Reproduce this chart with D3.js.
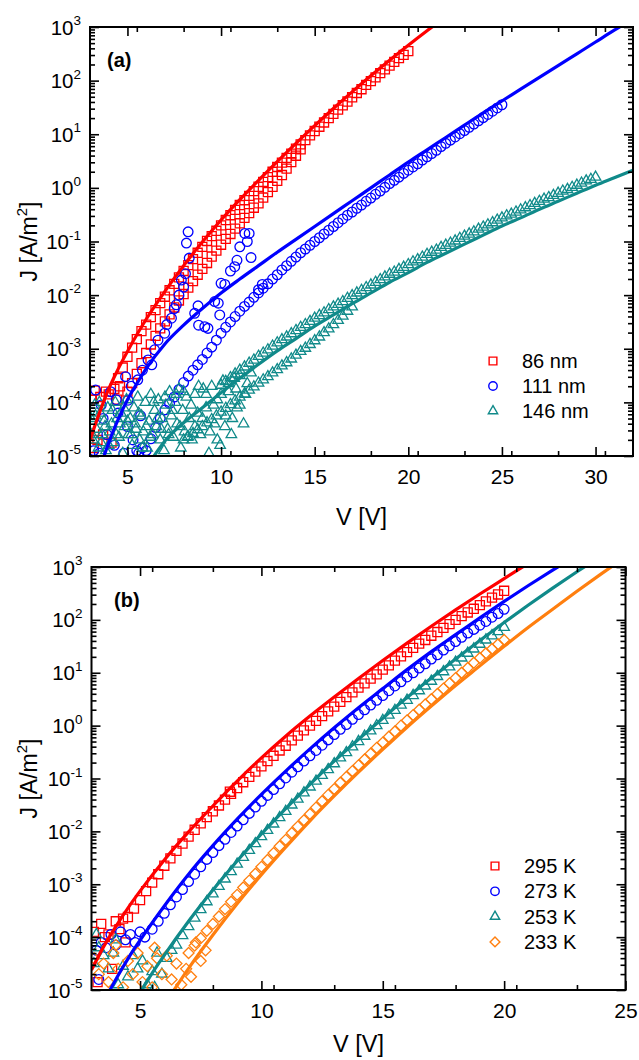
<!DOCTYPE html>
<html><head><meta charset="utf-8">
<script src="https://cdn.jsdelivr.net/npm/d3@7"></script>
<style>
body{margin:0;background:#fff}
text{font-family:Arial,"Liberation Sans",Helvetica,sans-serif;fill:#000}
</style>
</head><body>
<svg id="chart" width="639" height="1060"></svg>
<script>
// ---------------- DATA (V [V], log10 of J [A/m^2]) ----------------
const seriesA = ["86 nm", "111 nm", "146 nm"];
const seriesB = ["295 K", "273 K", "253 K", "233 K"];
const vTicksA = [5, 10, 15, 20, 25, 30];
const vTicksB = [5, 10, 15, 20, 25];
const jTickExp = [-5, -4, -3, -2, -1, 0, 1, 2, 3];

const red86Scatter = [[3.1,-3.95],[3.25,-3.78],[3.2,-4.85],[3.4,-4.7],[3.55,-3.9],[3.7,-4.6],[3.85,-3.8],[4.0,-3.85],[4.15,-4.75],[4.3,-3.75],[4.45,-3.95],[4.6,-3.7],[5.0,-3.8],[5.25,-3.64]];
const red86Up = [[4.5,-3.55],[4.75,-3.35],[5,-3.15],[5.25,-2.98],[5.5,-2.82],[5.75,-2.67],[6,-2.55],[6.25,-2.41],[6.5,-2.28],[6.75,-2.15],[7,-2.03],[7.25,-1.91],[7.5,-1.79],[7.75,-1.67],[8,-1.55],[8.25,-1.44],[8.5,-1.33],[8.75,-1.21],[9,-1.1],[9.25,-0.99],[9.5,-0.9],[9.75,-0.8],[10,-0.7],[10.25,-0.6],[10.5,-0.51],[10.75,-0.41],[11,-0.32],[11.25,-0.23],[11.5,-0.15],[11.75,-0.06],[12,0.02],[12.25,0.11],[12.5,0.2],[12.75,0.3],[13,0.39],[13.25,0.47],[13.5,0.56],[13.75,0.64],[14,0.73],[14.25,0.81],[14.5,0.89],[14.75,0.98],[15,1.06],[15.25,1.14],[15.5,1.22],[15.75,1.3],[16,1.38],[16.25,1.46],[16.5,1.54],[16.75,1.61],[17,1.69],[17.25,1.77],[17.5,1.84],[17.75,1.92],[18,1.99],[18.25,2.06],[18.5,2.14],[18.75,2.21],[19,2.28],[19.25,2.35],[19.5,2.42],[19.75,2.48],[20,2.55]];
const red86Low = [[5.5,-3.47],[5.75,-3.27],[6,-3.08],[6.25,-2.92],[6.5,-2.76],[6.75,-2.62],[7,-2.49],[7.25,-2.36],[7.5,-2.23],[7.75,-2.1],[8,-1.98],[8.25,-1.86],[8.5,-1.74],[8.75,-1.62],[9,-1.51],[9.25,-1.4],[9.5,-1.28],[9.75,-1.17],[10,-1.06],[10.25,-0.95],[10.5,-0.86],[10.75,-0.76],[11,-0.66],[11.25,-0.56],[11.5,-0.47],[11.75,-0.37],[12,-0.29],[12.25,-0.18],[12.5,-0.08],[12.75,0.02],[13,0.13],[13.25,0.24],[13.5,0.36],[13.75,0.48],[14,0.6],[14.25,0.72]];
const red86Fit = [[3,-4.7],[3.5,-4.2],[4,-3.75],[4.5,-3.38],[5,-3.05],[5.5,-2.74],[6,-2.45],[7,-1.93],[8,-1.45],[9,-1.01],[10,-0.6],[11,-0.22],[12,0.14],[13,0.49],[14,0.83],[15,1.16],[16,1.48],[17,1.79],[18,2.09],[19,2.38],[20,2.66],[21,2.93],[22,3.19]];

const blue111Scatter = [[3.2,-4.9],[3.5,-4.95],[3.9,-4.6],[4.3,-4.8],[4.8,-4.95],[5.3,-4.7],[5.5,-4.9],[5.6,-4.95],[5.8,-4.85],[3.7,-4.3],[4.5,-4.2],[5.0,-4.45],[5.7,-4.25],
 [3.3,-3.77],[3.6,-4.05],[4.1,-3.8],[4.4,-3.95],[4.9,-3.52],[5.03,-3.96],[5.2,-3.7],[5.55,-3.58],[5.8,-3.4],[6.1,-3.21],[6.3,-3.3],[6.45,-3.02],[6.63,-2.84],[6.99,-2.71],[7.1,-2.55],[7.35,-2.43],[7.5,-2.25],[7.61,-2.18],[7.75,-2.0],[7.88,-1.72],[8.0,-1.85],[8.1,-1.6],[8.15,-1.03],[8.24,-0.82],[8.3,-1.31],
 [8.59,-2.34],[8.77,-2.2],[8.8,-2.56],[9.13,-2.59],[9.3,-2.62],[9.66,-2.12],[9.85,-2.15],[9.93,-2.37],[10.0,-1.78],[10.2,-1.8],[10.5,-1.55],[10.73,-1.47],[10.85,-1.35],[11.0,-1.1],[11.27,-0.85],[11.5,-0.85],[11.4,-1.0],[11.6,-1.3],[12.0,-1.9],[12.2,-1.8]];
const blue111Main = [[6,-4.9],[6.25,-4.68],[6.5,-4.47],[6.75,-4.3],[7,-4.14],[7.25,-4.02],[7.5,-3.9],[7.75,-3.76],[8,-3.63],[8.25,-3.51],[8.5,-3.4],[8.75,-3.3],[9,-3.2],[9.25,-3.08],[9.5,-2.97],[9.75,-2.84],[10,-2.71],[10.25,-2.6],[10.5,-2.5],[10.75,-2.4],[11,-2.3],[11.25,-2.21],[11.5,-2.13],[11.75,-2.04],[12,-1.96],[12.25,-1.87],[12.5,-1.79],[12.75,-1.7],[13,-1.62],[13.25,-1.53],[13.5,-1.45],[13.75,-1.37],[14,-1.29],[14.25,-1.21],[14.5,-1.14],[14.75,-1.07],[15,-1.0],[15.25,-0.93],[15.5,-0.86],[15.75,-0.79],[16,-0.72],[16.25,-0.65],[16.5,-0.58],[16.75,-0.51],[17,-0.45],[17.25,-0.38],[17.5,-0.32],[17.75,-0.25],[18,-0.19],[18.25,-0.12],[18.5,-0.06],[18.75,0.01],[19,0.08],[19.25,0.14],[19.5,0.2],[19.75,0.27],[20,0.33],[20.25,0.39],[20.5,0.45],[20.75,0.52],[21,0.58],[21.25,0.64],[21.5,0.7],[21.75,0.77],[22,0.83],[22.25,0.89],[22.5,0.95],[22.75,1.01],[23,1.07],[23.25,1.13],[23.5,1.19],[23.75,1.25],[24,1.31],[24.25,1.37],[24.5,1.43],[24.75,1.49],[25,1.55]];
const blue111Fit = [[3.75,-5],[4,-4.75],[4.5,-4.32],[5,-3.95],[5.5,-3.65],[6,-3.37],[7,-2.91],[8,-2.56],[9,-2.25],[10,-1.96],[11,-1.7],[12,-1.45],[13,-1.2],[14,-0.96],[15,-0.72],[16,-0.48],[17,-0.24],[18,0],[19,0.24],[20,0.48],[21,0.71],[22,0.94],[23,1.17],[24,1.4],[25,1.62],[26,1.84],[27,2.06],[28,2.28],[29,2.5],[30,2.72],[31,2.94],[32,3.15]];

const teal146Scatter = [[3.05,-4.3],[3.15,-4.7],[3.25,-4.05],[3.35,-4.5],[3.45,-4.85],[3.55,-4.2],[3.65,-4.6],[3.75,-4.35],[3.85,-4.9],[3.95,-4.1],[4.05,-4.55],[4.15,-4.4],[4.25,-4.75],[4.35,-4.0],[4.45,-4.3],[4.55,-4.65],[4.65,-4.2],[4.75,-4.95],[4.85,-4.45],[4.95,-3.95],[5.05,-4.6],[5.15,-4.3],[5.25,-4.8],[5.35,-4.1],[5.45,-4.5],[5.55,-3.9],[5.65,-4.7],[5.75,-4.25],[5.85,-4.55],[5.95,-4.0],[6.05,-4.85],[6.15,-4.35],[6.25,-3.85],[6.35,-4.6],[6.45,-4.15],[6.55,-4.45],[6.65,-3.95],[6.75,-4.7],[6.85,-4.3],[6.95,-4.9],[7.05,-4.05],[7.15,-4.5],[7.25,-3.8],[7.35,-4.25],[7.45,-4.65],[7.55,-4.0],[7.65,-4.4],[7.75,-3.75],[7.85,-4.85],[7.95,-4.15],[8.05,-4.55],[8.15,-3.9],[8.3,-4.3],[8.45,-4.7],[8.6,-3.85],[8.75,-4.2],[8.9,-4.6],[9.05,-3.75],[9.2,-4.1],[9.35,-4.95],[9.5,-3.7],[9.65,-4.4],[9.8,-3.95],[9.95,-4.8],[10.1,-3.6],[10.25,-4.25],[10.4,-3.8],[10.55,-4.6],[10.7,-3.55],[10.85,-4.1],[11.0,-3.5],[11.2,-4.4],[11.4,-3.65],
 [3.1,-4.6],[3.3,-4.25],[3.5,-4.0],[3.6,-4.75],[3.8,-4.45],[4.0,-4.8],[4.2,-4.15],[4.4,-4.6],[4.6,-4.4],[4.8,-4.1],[5.0,-4.35],[5.2,-4.6],[5.4,-4.4],[5.6,-4.2],[5.8,-4.85],[6.0,-4.45],[6.2,-4.65],[6.4,-4.0],[6.6,-4.3],[6.8,-4.5],[7.0,-3.9],[7.2,-4.6],[7.4,-4.15],[7.6,-3.85],[7.8,-4.45],[8.0,-3.8],[8.2,-4.65],[8.4,-4.05],[8.6,-4.45],[8.8,-3.7],[9.0,-4.3],[9.2,-3.85],[9.4,-4.55],[9.6,-4.05],[9.8,-4.7],[10.0,-3.85],[10.2,-4.45],[10.4,-3.65],[10.6,-4.3],[10.8,-3.75],[11.0,-4.05],[11.3,-3.85],[11.6,-3.45]];
const teal146Up = [[10,-3.68],[10.25,-3.61],[10.5,-3.54],[10.75,-3.47],[11,-3.4],[11.25,-3.34],[11.5,-3.27],[11.75,-3.21],[12,-3.14],[12.25,-3.08],[12.5,-3.02],[12.75,-2.95],[13,-2.89],[13.25,-2.83],[13.5,-2.78],[13.75,-2.72],[14,-2.66],[14.25,-2.6],[14.5,-2.55],[14.75,-2.49],[15,-2.43],[15.25,-2.38],[15.5,-2.33],[15.75,-2.27],[16,-2.22],[16.25,-2.17],[16.5,-2.12],[16.75,-2.06],[17,-2.01],[17.25,-1.96],[17.5,-1.91],[17.75,-1.86],[18,-1.81],[18.25,-1.76],[18.5,-1.71],[18.75,-1.66],[19,-1.61],[19.25,-1.57],[19.5,-1.52],[19.75,-1.48],[20,-1.43],[20.25,-1.38],[20.5,-1.34],[20.75,-1.29],[21,-1.24],[21.25,-1.2],[21.5,-1.16],[21.75,-1.11],[22,-1.07],[22.25,-1.03],[22.5,-0.99],[22.75,-0.94],[23,-0.9],[23.25,-0.86],[23.5,-0.82],[23.75,-0.77],[24,-0.73],[24.25,-0.69],[24.5,-0.65],[24.75,-0.6],[25,-0.56],[25.25,-0.52],[25.5,-0.49],[25.75,-0.45],[26,-0.41],[26.25,-0.37],[26.5,-0.33],[26.75,-0.29],[27,-0.25],[27.25,-0.21],[27.5,-0.18],[27.75,-0.14],[28,-0.1],[28.25,-0.06],[28.5,-0.03],[28.75,0.01],[29,0.05],[29.25,0.09],[29.5,0.13],[29.75,0.16],[30,0.2]];
const teal146Low = [[8,-4.7],[8.25,-4.64],[8.5,-4.58],[8.75,-4.51],[9,-4.45],[9.25,-4.38],[9.5,-4.32],[9.75,-4.25],[10,-4.18],[10.25,-4.11],[10.5,-4.04],[10.75,-3.97],[11,-3.9],[11.25,-3.84],[11.5,-3.77],[11.75,-3.71],[12,-3.64],[12.25,-3.58],[12.5,-3.52],[12.75,-3.45],[13,-3.39],[13.25,-3.32],[13.5,-3.26],[13.75,-3.19],[14,-3.12],[14.25,-3.05],[14.5,-2.99],[14.75,-2.92],[15,-2.85],[15.25,-2.78],[15.5,-2.7],[15.75,-2.63],[16,-2.55],[16.25,-2.47],[16.5,-2.39],[16.75,-2.3],[17,-2.22]];
const teal146Fit = [[6.3,-5.06],[7,-4.72],[8,-4.38],[9,-4.1],[10,-3.82],[11,-3.55],[12,-3.29],[13,-3.04],[14,-2.81],[15,-2.58],[16,-2.37],[17,-2.16],[18,-1.96],[19,-1.76],[20,-1.58],[21,-1.39],[22,-1.22],[23,-1.05],[24,-0.88],[25,-0.71],[26,-0.56],[27,-0.4],[28,-0.25],[29,-0.1],[30,0.05],[31,0.19],[32,0.33]];

const red295Scatter = [[3.1,-3.9],[3.25,-4.85],[3.4,-3.75],[3.55,-4.0],[3.7,-3.95],[3.85,-4.6],[4.0,-3.7],[4.15,-3.85],[4.3,-3.65],[4.4,-4.1],[8.7,-1.25]];
const red295Main = [[4.5,-3.62],[4.75,-3.46],[5,-3.3],[5.25,-3.13],[5.5,-2.97],[5.75,-2.81],[6,-2.65],[6.25,-2.51],[6.5,-2.37],[6.75,-2.23],[7,-2.1],[7.25,-1.97],[7.5,-1.85],[7.75,-1.73],[8,-1.62],[8.25,-1.51],[8.5,-1.4],[8.75,-1.29],[9,-1.18],[9.25,-1.07],[9.5,-0.97],[9.75,-0.87],[10,-0.77],[10.25,-0.67],[10.5,-0.57],[10.75,-0.47],[11,-0.38],[11.25,-0.28],[11.5,-0.19],[11.75,-0.09],[12,0.0],[12.25,0.09],[12.5,0.18],[12.75,0.27],[13,0.36],[13.25,0.45],[13.5,0.54],[13.75,0.63],[14,0.72],[14.25,0.8],[14.5,0.89],[14.75,0.97],[15,1.06],[15.25,1.14],[15.5,1.23],[15.75,1.31],[16,1.39],[16.25,1.47],[16.5,1.55],[16.75,1.62],[17,1.7],[17.25,1.77],[17.5,1.85],[17.75,1.92],[18,2.0],[18.25,2.07],[18.5,2.14],[18.75,2.21],[19,2.28],[19.25,2.35],[19.5,2.42],[19.75,2.48],[20,2.55]];
const red295Fit = [[3,-4.62],[3.5,-4.18],[4,-3.8],[4.5,-3.45],[5,-3.13],[6,-2.54],[7,-2.01],[8,-1.52],[9,-1.05],[10,-0.61],[11,-0.2],[12,0.18],[13,0.54],[14,0.89],[15,1.23],[16,1.56],[17,1.88],[18,2.19],[19,2.49],[20,2.78],[21,3.07]];

const blue273Scatter = [[3.2,-4.25],[3.3,-4.8],[3.4,-4.1],[3.6,-4.2],[3.8,-3.95],[4.0,-4.15],[4.2,-3.9],[4.4,-4.05],[4.6,-3.95],[4.8,-4.1],[5.0,-3.9],[5.2,-4.0]];
const blue273Main = [[5.5,-3.85],[5.75,-3.7],[6,-3.55],[6.25,-3.39],[6.5,-3.24],[6.75,-3.1],[7,-2.95],[7.25,-2.81],[7.5,-2.67],[7.75,-2.53],[8,-2.4],[8.25,-2.27],[8.5,-2.15],[8.75,-2.02],[9,-1.9],[9.25,-1.78],[9.5,-1.66],[9.75,-1.54],[10,-1.43],[10.25,-1.32],[10.5,-1.21],[10.75,-1.1],[11,-0.99],[11.25,-0.88],[11.5,-0.78],[11.75,-0.67],[12,-0.57],[12.25,-0.47],[12.5,-0.37],[12.75,-0.27],[13,-0.17],[13.25,-0.07],[13.5,0.02],[13.75,0.12],[14,0.21],[14.25,0.3],[14.5,0.39],[14.75,0.48],[15,0.57],[15.25,0.66],[15.5,0.75],[15.75,0.83],[16,0.92],[16.25,1.0],[16.5,1.09],[16.75,1.17],[17,1.26],[17.25,1.34],[17.5,1.43],[17.75,1.51],[18,1.59],[18.25,1.67],[18.5,1.75],[18.75,1.82],[19,1.9],[19.25,1.97],[19.5,2.05],[19.75,2.12],[20,2.2]];
const blue273Fit = [[3.76,-5.0],[4,-4.8],[4.5,-4.41],[5,-4.06],[6,-3.41],[7,-2.81],[8,-2.27],[9,-1.77],[10,-1.3],[11,-0.86],[12,-0.44],[13,-0.04],[14,0.34],[15,0.7],[16,1.06],[17,1.4],[18,1.72],[19,2.04],[20,2.35],[21,2.65],[22,2.94],[23,3.22]];

const teal253Scatter = [[3.1,-4.5],[3.2,-3.95],[3.3,-4.2],[3.5,-4.35],[3.7,-4.6],[3.9,-4.3],[4.0,-4.05],[4.1,-4.9],[4.3,-4.55],[4.5,-4.75],[4.7,-4.35],[4.9,-4.6],[5.1,-4.45],[5.3,-4.9],[5.5,-4.65],[5.6,-4.95],[5.7,-4.3],[5.9,-4.7],[6.1,-4.4],[6.3,-4.25]];
const teal253Main = [[6.5,-4.15],[6.75,-3.97],[7,-3.8],[7.25,-3.64],[7.5,-3.48],[7.75,-3.33],[8,-3.18],[8.25,-3.04],[8.5,-2.9],[8.75,-2.76],[9,-2.62],[9.25,-2.49],[9.5,-2.36],[9.75,-2.23],[10,-2.1],[10.25,-1.98],[10.5,-1.86],[10.75,-1.74],[11,-1.62],[11.25,-1.5],[11.5,-1.39],[11.75,-1.27],[12,-1.16],[12.25,-1.05],[12.5,-0.94],[12.75,-0.83],[13,-0.72],[13.25,-0.61],[13.5,-0.51],[13.75,-0.4],[14,-0.3],[14.25,-0.2],[14.5,-0.1],[14.75,0.0],[15,0.1],[15.25,0.2],[15.5,0.29],[15.75,0.39],[16,0.48],[16.25,0.57],[16.5,0.66],[16.75,0.75],[17,0.84],[17.25,0.93],[17.5,1.02],[17.75,1.11],[18,1.2],[18.25,1.28],[18.5,1.37],[18.75,1.45],[19,1.54],[19.25,1.62],[19.5,1.7],[19.75,1.78],[20,1.86]];
const teal253Fit = [[5.07,-5.0],[5.5,-4.68],[6,-4.34],[7,-3.7],[8,-3.11],[9,-2.56],[10,-2.05],[11,-1.57],[12,-1.11],[13,-0.67],[14,-0.26],[15,0.14],[16,0.53],[17,0.9],[18,1.26],[19,1.61],[20,1.95],[21,2.28],[22,2.6],[23,2.91],[24,3.21]];

const orange233Scatter = [[3.1,-4.4],[3.3,-4.7],[3.5,-4.5],[3.7,-4.85],[3.9,-4.3],[4.0,-4.15],[4.1,-4.6],[4.3,-4.95],[4.5,-4.45],[4.7,-4.7],[4.9,-4.3],[5.1,-4.85],[5.3,-4.55],[5.5,-4.95],[5.6,-4.2],[5.7,-4.4],[5.9,-4.7],[6.1,-4.35],[6.3,-4.8],[6.5,-4.5],[6.7,-4.9],[6.9,-4.6],[7.1,-4.75],[7.3,-4.1],[7.5,-4.45],[7.7,-4.25]];
const orange233Main = [[7,-4.3],[7.25,-4.16],[7.5,-4.02],[7.75,-3.88],[8,-3.75],[8.25,-3.61],[8.5,-3.47],[8.75,-3.33],[9,-3.2],[9.25,-3.06],[9.5,-2.93],[9.75,-2.8],[10,-2.67],[10.25,-2.54],[10.5,-2.41],[10.75,-2.28],[11,-2.16],[11.25,-2.03],[11.5,-1.91],[11.75,-1.79],[12,-1.67],[12.25,-1.55],[12.5,-1.43],[12.75,-1.31],[13,-1.2],[13.25,-1.08],[13.5,-0.97],[13.75,-0.86],[14,-0.75],[14.25,-0.64],[14.5,-0.53],[14.75,-0.42],[15,-0.32],[15.25,-0.21],[15.5,-0.11],[15.75,0.0],[16,0.1],[16.25,0.2],[16.5,0.3],[16.75,0.4],[17,0.5],[17.25,0.6],[17.5,0.7],[17.75,0.8],[18,0.9],[18.25,1.0],[18.5,1.09],[18.75,1.19],[19,1.28],[19.25,1.37],[19.5,1.45],[19.75,1.54],[20,1.62]];
const orange233Fit = [[6.4,-5.0],[7,-4.59],[8,-3.96],[9,-3.37],[10,-2.82],[11,-2.3],[12,-1.8],[13,-1.33],[14,-0.88],[15,-0.45],[16,-0.03],[17,0.37],[18,0.76],[19,1.13],[20,1.5],[21,1.86],[22,2.2],[23,2.54],[24,2.87],[25,3.19]];

// ---------------- STYLE ----------------
const C = {red:"#ff0000", blue:"#0000ff", teal:"#108a8a", orange:"#ff7f0f"};
const FONT = 'Arial,"Liberation Sans",Helvetica,sans-serif';

const diamondType = { draw(ctx, size){ const h = Math.sqrt(size/2); ctx.moveTo(0,-h); ctx.lineTo(h,0); ctx.lineTo(0,h); ctx.lineTo(-h,0); ctx.closePath(); } };
const SHAPES = {
  square: {type: d3.symbolSquare, size: 82, legend: 60},
  circle: {type: d3.symbolCircle, size: 74, legend: 56},
  triangle: {type: d3.symbolTriangle, size: 48, legend: 38},
  diamond: {type: diamondType, size: 60, legend: 48}
};

const svg = d3.select("#chart");

function panel(cfg){
  const {x0,x1,y0,y1,vDomain,vTicks,id} = cfg;
  const x = d3.scaleLinear().domain(vDomain).range([x0,x1]);
  const y = d3.scaleLog().domain([1e-5,1e3]).range([y1,y0]);
  const g = svg.append("g");

  g.append("clipPath").attr("id","clip"+id).append("rect")
    .attr("x",x0).attr("y",y0).attr("width",x1-x0).attr("height",y1-y0);
  const plot = g.append("g").attr("clip-path","url(#clip"+id+")");

  cfg.series.forEach(s=>{
    const sh = SHAPES[s.shape];
    const sym = d3.symbol().type(sh.type).size(sh.size);
    s.data.forEach(arr=>{
      plot.append("g").selectAll("path").data(arr).join("path")
        .attr("d", sym)
        .attr("transform", d=>`translate(${x(d[0])},${y(Math.pow(10,d[1]))})`)
        .attr("fill","none").attr("stroke",s.color).attr("stroke-width",1.3);
    });
  });
  const line = d3.line().x(d=>x(d[0])).y(d=>y(Math.pow(10,d[1]))).curve(d3.curveMonotoneX);
  cfg.series.forEach(s=>{
    plot.append("path").datum(s.fit).attr("d",line)
      .attr("fill","none").attr("stroke",s.color).attr("stroke-width",3.2);
  });

  const minorV = d3.range(vDomain[0], vDomain[1]+0.001, 2.5).filter(v=>!vTicks.includes(v) && v>vDomain[0]);
  const majorJ = jTickExp.map(e=>Math.pow(10,e));
  const minorJ = [];
  jTickExp.slice(0,-1).forEach(e=>{ for(let k=2;k<=9;k++) minorJ.push(k*Math.pow(10,e)); });

  const ax = (axis, tr) => { const a = g.append("g").attr("transform",tr).call(axis);
    a.select(".domain").remove(); a.selectAll("line").attr("stroke","#000").attr("stroke-width",1.6); return a; };

  const bot = ax(d3.axisBottom(x).tickValues(vTicks).tickSizeInner(-9).tickSizeOuter(0).tickPadding(13), `translate(0,${y1})`);
  bot.selectAll("text").attr("font-size",21).attr("font-family",FONT).attr("fill","#000");
  ax(d3.axisBottom(x).tickValues(minorV).tickSizeInner(-5).tickSizeOuter(0).tickFormat(""), `translate(0,${y1})`);
  ax(d3.axisTop(x).tickValues(vTicks).tickSizeInner(-9).tickSizeOuter(0).tickFormat(""), `translate(0,${y0})`);
  ax(d3.axisTop(x).tickValues(minorV).tickSizeInner(-5).tickSizeOuter(0).tickFormat(""), `translate(0,${y0})`);
  ax(d3.axisLeft(y).tickValues(majorJ).tickSizeInner(-9).tickSizeOuter(0).tickFormat(""), `translate(${x0},0)`);
  ax(d3.axisLeft(y).tickValues(minorJ).tickSizeInner(-5).tickSizeOuter(0).tickFormat(""), `translate(${x0},0)`);
  ax(d3.axisRight(y).tickValues(majorJ).tickSizeInner(-9).tickSizeOuter(0).tickFormat(""), `translate(${x1},0)`);
  ax(d3.axisRight(y).tickValues(minorJ).tickSizeInner(-5).tickSizeOuter(0).tickFormat(""), `translate(${x1},0)`);

  g.append("rect").attr("x",x0).attr("y",y0).attr("width",x1-x0).attr("height",y1-y0)
    .attr("fill","none").attr("stroke","#000").attr("stroke-width",2);

  jTickExp.forEach(e=>{
    const t = g.append("text").attr("x",x0-9).attr("y",y(Math.pow(10,e))+7.5)
      .attr("text-anchor","end").attr("font-size",20.5).attr("font-family",FONT);
    t.append("tspan").text("10");
    t.append("tspan").attr("font-size",13.5).attr("dy",-9.5).text(String(e));
  });

  g.append("text").attr("x",(x0+x1)/2).attr("y",y1+cfg.titleDy).attr("text-anchor","middle")
    .attr("font-size",23.5).attr("font-family",FONT).text("V [V]");
  const jt = g.append("text").attr("transform",`translate(37,${(y0+y1)/2}) rotate(-90)`)
    .attr("text-anchor","middle").attr("font-size",23).attr("font-family",FONT);
  jt.append("tspan").text("J [A/m");
  jt.append("tspan").attr("font-size",15).attr("dy",-10).text("2");
  jt.append("tspan").attr("dy",10).text("]");

  g.append("text").attr("x",cfg.label.x).attr("y",cfg.label.y).attr("font-size",20)
    .attr("font-weight","bold").attr("font-family",FONT).text(cfg.label.text);

  cfg.series.forEach((s,i)=>{
    const ly = cfg.legend.y + i*cfg.legend.dy;
    const sh = SHAPES[s.shape];
    g.append("path").attr("d", d3.symbol().type(sh.type).size(sh.legend))
      .attr("transform",`translate(${cfg.legend.x},${ly})`)
      .attr("fill","none").attr("stroke",s.color).attr("stroke-width",1.4);
    g.append("text").attr("x",cfg.legend.x+29).attr("y",ly+7).attr("font-size",20)
      .attr("font-family",FONT).text(s.name);
  });
}

panel({
  id:"a", x0:90, x1:633, y0:27, y1:456, vDomain:[3,32], vTicks:vTicksA, titleDy:69,
  label:{x:107, y:67, text:"(a)"},
  legend:{x:493, y:361, dy:25},
  series:[
    {name:seriesA[0], color:C.red, shape:"square", data:[red86Scatter, red86Low, red86Up], fit:red86Fit},
    {name:seriesA[1], color:C.blue, shape:"circle", data:[blue111Scatter, blue111Main], fit:blue111Fit},
    {name:seriesA[2], color:C.teal, shape:"triangle", data:[teal146Scatter, teal146Low, teal146Up], fit:teal146Fit}
  ]
});

panel({
  id:"b", x0:91.5, x1:625.5, y0:567, y1:990, vDomain:[3,25], vTicks:vTicksB, titleDy:62,
  label:{x:114, y:607, text:"(b)"},
  legend:{x:495, y:866, dy:25.3},
  series:[
    {name:seriesB[0], color:C.red, shape:"square", data:[red295Scatter, red295Main], fit:red295Fit},
    {name:seriesB[1], color:C.blue, shape:"circle", data:[blue273Scatter, blue273Main], fit:blue273Fit},
    {name:seriesB[2], color:C.teal, shape:"triangle", data:[teal253Scatter, teal253Main], fit:teal253Fit},
    {name:seriesB[3], color:C.orange, shape:"diamond", data:[orange233Scatter, orange233Main], fit:orange233Fit}
  ]
});
</script>
</body></html>
